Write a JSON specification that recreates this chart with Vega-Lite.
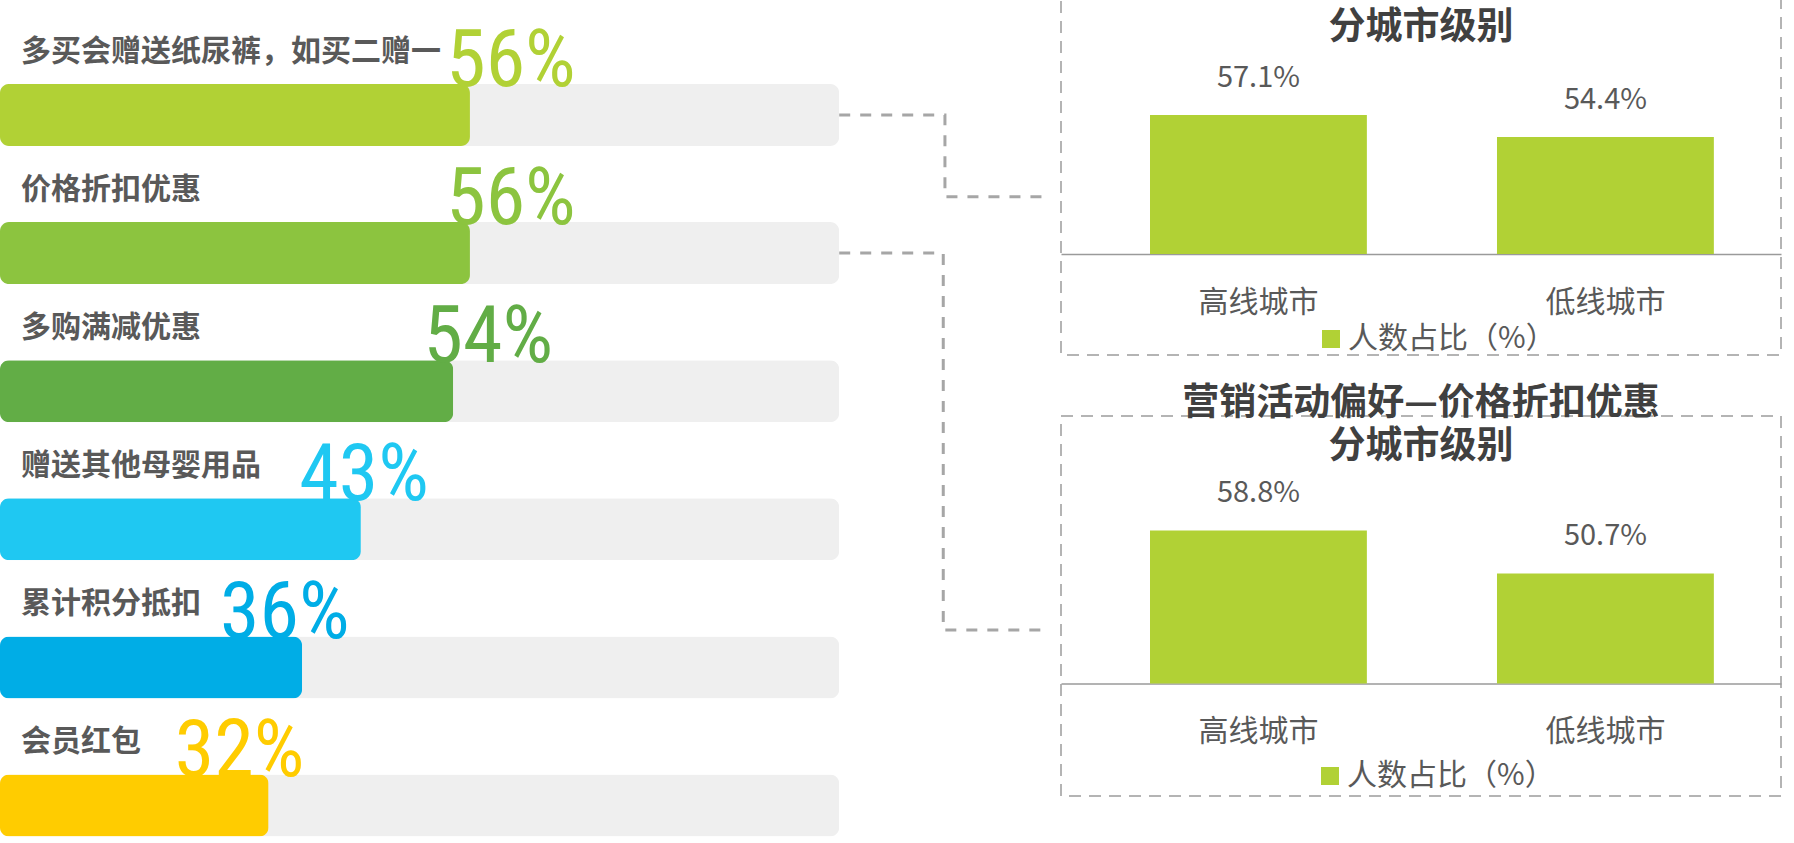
{
  "$schema": "https://vega.github.io/schema/vega-lite/v6.json",
  "background": "white",
  "padding": {"left": 0, "top": -35, "right": 0, "bottom": 0},
  "spacing": 5,
  "config": {
    "font": "Noto Sans CJK SC",
    "view": {"stroke": "#b4b4b4", "strokeDash": [12, 8], "strokeWidth": 2}
  },
  "resolve": {"scale": {"color": "independent"}, "legend": {"color": "independent"}},
  "datasets": {
    "prefs": [
      {"rank": 1, "item": "多买会赠送纸尿裤，如买二赠一", "share": 0.56, "full": 1},
      {"rank": 2, "item": "价格折扣优惠", "share": 0.56, "full": 1},
      {"rank": 3, "item": "多购满减优惠", "share": 0.54, "full": 1},
      {"rank": 4, "item": "赠送其他母婴用品", "share": 0.43, "full": 1},
      {"rank": 5, "item": "累计积分抵扣", "share": 0.36, "full": 1},
      {"rank": 6, "item": "会员红包", "share": 0.32, "full": 1}
    ],
    "links": [
      {"link": "a", "step": 1, "x": 1.0, "rank": 1},
      {"link": "a", "step": 2, "x": 1.126, "rank": 1},
      {"link": "a", "step": 3, "x": 1.126, "rank": 1.592},
      {"link": "a", "step": 4, "x": 1.245, "rank": 1.592},
      {"link": "b", "step": 1, "x": 1.0, "rank": 2},
      {"link": "b", "step": 2, "x": 1.124, "rank": 2},
      {"link": "b", "step": 3, "x": 1.124, "rank": 4.729},
      {"link": "b", "step": 4, "x": 1.25, "rank": 4.729}
    ],
    "tier1": [
      {"city": "高线城市", "share": 0.571},
      {"city": "低线城市", "share": 0.544}
    ],
    "tier2": [
      {"city": "高线城市", "share": 0.588},
      {"city": "低线城市", "share": 0.507}
    ]
  },
  "hconcat": [
    {
      "width": 1049,
      "height": 845,
      "view": {"stroke": null},
      "resolve": {"scale": {"x": "independent"}},
      "layer": [
        {
          "data": {"name": "prefs"},
          "mark": {"type": "bar", "orient": "horizontal", "size": 62, "cornerRadius": 9, "color": "#efefef"},
          "encoding": {
            "y": {"field": "rank", "type": "quantitative", "scale": {"domain": [0.1456, 6.2644], "reverse": true, "padding": 0}, "axis": null},
            "x": {"field": "full", "type": "quantitative", "scale": {"domain": [0, 1.25], "padding": 0}, "axis": null}
          }
        },
        {
          "data": {"name": "prefs"},
          "mark": {"type": "bar", "orient": "horizontal", "size": 62, "cornerRadius": 9},
          "encoding": {
            "y": {"field": "rank", "type": "quantitative", "scale": {"domain": [0.1456, 6.2644], "reverse": true, "padding": 0}, "axis": null},
            "x": {"field": "share", "type": "quantitative", "scale": {"domain": [0, 1.25], "padding": 0}, "axis": null},
            "color": {
              "field": "item", "type": "nominal", "legend": null,
              "scale": {
                "domain": ["多买会赠送纸尿裤，如买二赠一", "价格折扣优惠", "多购满减优惠", "赠送其他母婴用品", "累计积分抵扣", "会员红包"],
                "range": ["#b1d135", "#8cc43f", "#62ad46", "#1fc8f2", "#00ade6", "#ffcc00"]
              }
            }
          }
        },
        {
          "data": {"name": "prefs"},
          "mark": {"type": "text", "align": "left", "baseline": "middle", "dx": 21, "dy": -63, "fontSize": 30, "fontWeight": "bold", "color": "#595959"},
          "encoding": {
            "y": {"field": "rank", "type": "quantitative", "scale": {"domain": [0.1456, 6.2644], "reverse": true, "padding": 0}, "axis": null},
            "x": {"datum": 0, "type": "quantitative", "scale": {"domain": [0, 1.25]}, "axis": null},
            "text": {"field": "item"}
          }
        },
        {
          "data": {"name": "links"},
          "mark": {"type": "line", "strokeDash": [11, 10], "strokeWidth": 3, "color": "#a6a6a6"},
          "encoding": {
            "x": {"field": "x", "type": "quantitative", "scale": {"domain": [0, 1.25]}, "axis": null},
            "y": {"field": "rank", "type": "quantitative", "scale": {"domain": [0.1456, 6.2644], "reverse": true, "padding": 0}, "axis": null},
            "detail": {"field": "link"},
            "order": {"field": "step"}
          }
        },
        {
          "data": {"name": "prefs"},
          "mark": {"type": "text", "align": "center", "baseline": "alphabetic", "dy": -29, "fontSize": 80, "font": "Liberation Sans Narrow, Roboto Condensed, DejaVu Sans Condensed, Roboto"},
          "encoding": {
            "y": {"field": "rank", "type": "quantitative", "scale": {"domain": [0.1456, 6.2644], "reverse": true, "padding": 0}, "axis": null},
            "x": {"field": "share", "type": "quantitative", "scale": {"domain": [0.108, 1.036]}, "axis": null},
            "text": {"field": "share", "format": ".0%"},
            "color": {"field": "item", "type": "nominal", "legend": null}
          }
        }
      ]
    },
    {
      "spacing": 28,
      "resolve": {"scale": {"color": "independent"}, "legend": {"color": "independent"}},
      "vconcat": [
        {
          "width": 720,
          "height": 358,
          "title": {"text": ["营销活动偏好—多买会赠送纸尿裤", "分城市级别"], "fontSize": 37, "fontWeight": "bold", "color": "#404040", "lineHeight": 43, "offset": -50, "anchor": "middle"},
          "data": {"name": "tier1"},
          "encoding": {
            "x": {
              "field": "city", "type": "nominal", "sort": null,
              "scale": {"paddingInner": 0.375, "paddingOuter": 0.225, "align": 0.57},
              "axis": {"title": null, "offset": -101, "ticks": false, "labelAngle": 0, "labelFontSize": 30, "labelColor": "#595959", "labelPadding": 48, "labelBaseline": "middle", "domainColor": "#9a9a9a", "domainWidth": 1.5, "grid": false}
            },
            "y": {"field": "share", "type": "quantitative", "scale": {"domain": [0.2758, 0.7161], "padding": 0}, "axis": null}
          },
          "layer": [
            {
              "mark": {"type": "bar"},
              "encoding": {
                "y2": {"datum": 0.4},
                "color": {
                  "datum": "人数占比（%）",
                  "scale": {"range": ["#b1d135"]},
                  "legend": {"title": null, "orient": "none", "legendX": 255, "legendY": 327, "padding": 0, "direction": "horizontal", "symbolType": "square", "symbolSize": 324, "symbolStrokeWidth": 0, "labelOffset": 2, "labelLimit": 400, "labelFontSize": 30, "labelColor": "#595959"}
                }
              }
            },
            {
              "mark": {"type": "text", "dy": -37, "fontSize": 29, "color": "#595959"},
              "encoding": {
                "text": {"field": "share", "format": ".1%"}
              }
            }
          ]
        },
        {
          "width": 720,
          "height": 380,
          "title": {"text": ["营销活动偏好—价格折扣优惠", "分城市级别"], "fontSize": 37, "fontWeight": "bold", "color": "#404040", "lineHeight": 43, "offset": -50, "anchor": "middle"},
          "data": {"name": "tier2"},
          "encoding": {
            "x": {
              "field": "city", "type": "nominal", "sort": null,
              "scale": {"paddingInner": 0.375, "paddingOuter": 0.225, "align": 0.57},
              "axis": {"title": null, "offset": -112.4, "ticks": false, "labelAngle": 0, "labelFontSize": 30, "labelColor": "#595959", "labelPadding": 48, "labelBaseline": "middle", "domainColor": "#9a9a9a", "domainWidth": 1.5, "grid": false}
            },
            "y": {"field": "share", "type": "quantitative", "scale": {"domain": [0.0887, 0.803], "padding": 0}, "axis": null}
          },
          "layer": [
            {
              "mark": {"type": "bar"},
              "encoding": {
                "y2": {"datum": 0.3},
                "color": {
                  "datum": "人数占比（%）",
                  "scale": {"range": ["#b1d135"]},
                  "legend": {"title": null, "orient": "none", "legendX": 254, "legendY": 345, "padding": 0, "direction": "horizontal", "symbolType": "square", "symbolSize": 324, "symbolStrokeWidth": 0, "labelOffset": 2, "labelLimit": 400, "labelFontSize": 30, "labelColor": "#595959"}
                }
              }
            },
            {
              "mark": {"type": "text", "dy": -37, "fontSize": 29, "color": "#595959"},
              "encoding": {
                "text": {"field": "share", "format": ".1%"}
              }
            }
          ]
        }
      ]
    }
  ]
}
